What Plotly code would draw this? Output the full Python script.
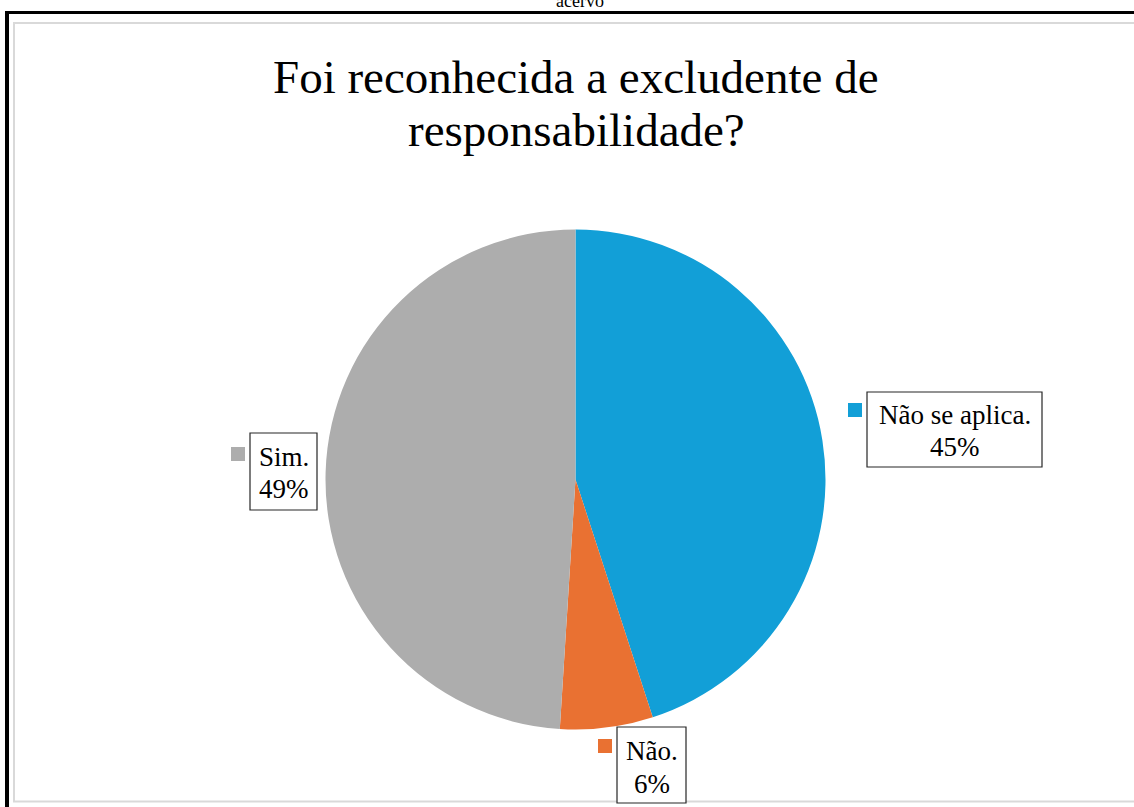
import plotly.graph_objects as go

W, H = 1134, 807

categories = ["Não se aplica.", "Não.", "Sim."]
values = [45, 6, 49]
colors = ["#129FD7", "#E97132", "#ADADAD"]
title_lines = ["Foi reconhecida a excludente de", "responsabilidade?"]
caption = "acervo"

SERIF = "Liberation Serif, Times New Roman, serif"


def px(x):
    return x / W


def py(y):
    return 1 - y / H


# pie geometry (pixels)
cx, cy, r = 575.5, 479.5, 250

fig = go.Figure(go.Pie(
    labels=categories,
    values=values,
    sort=False,
    direction="clockwise",
    rotation=0,
    marker=dict(colors=colors, line=dict(width=0)),
    textinfo="none",
    hoverinfo="label+percent",
    showlegend=False,
    domain=dict(x=[px(cx - r), px(cx + r)], y=[py(cy + r), py(cy - r)]),
))

shapes = []
annotations = []

# outer frame lines
shapes.append(dict(type="line", xref="paper", yref="paper", x0=px(5), x1=px(1134), y0=py(12.5), y1=py(12.5),
                   line=dict(color="black", width=3)))
shapes.append(dict(type="line", xref="paper", yref="paper", x0=px(7), x1=px(7), y0=py(11), y1=py(807),
                   line=dict(color="black", width=4)))
# inner grey frame
shapes.append(dict(type="rect", xref="paper", yref="paper", x0=px(14), x1=px(1140), y0=py(23), y1=py(801.5),
                   line=dict(color="#D9D9D9", width=2), fillcolor="rgba(0,0,0,0)"))


def text_line(txt, x, baseline, size):
    annotations.append(dict(
        xref="paper", yref="paper", x=px(x), y=py(baseline - 0.3 * size),
        xanchor="center", yanchor="middle", showarrow=False,
        text=txt, font=dict(family=SERIF, size=size, color="black"),
    ))


total = sum(values)
# label layout: box (x0, y0, x1, y1), legend square (x, y), baselines of two lines
label_layout = [
    ((867, 392, 1042, 467), (848, 403), (423, 455)),
    ((617, 727, 686, 803), (598, 739), (759, 792)),
    ((250, 433, 317, 510), (231, 447), (465, 497)),
]
for cat, val, col, (box, sq, bl) in zip(categories, values, colors, label_layout):
    bx0, by0, bx1, by1 = box
    shapes.append(dict(type="rect", xref="paper", yref="paper", x0=px(bx0), x1=px(bx1), y0=py(by0), y1=py(by1),
                       line=dict(color="#262626", width=1.2), fillcolor="white"))
    sx, sy = sq
    shapes.append(dict(type="rect", xref="paper", yref="paper", x0=px(sx), x1=px(sx + 14), y0=py(sy), y1=py(sy + 14),
                       line=dict(width=0), fillcolor=col))
    pct = round(val / total * 100)
    xc = (bx0 + bx1) / 2
    text_line(cat, xc, bl[0], 27)
    text_line(f"{pct}%", xc, bl[1], 27)

# title (two lines, placed separately for exact spacing)
text_line(title_lines[0], 576, 91, 47)
text_line(title_lines[1], 576, 144, 47)

# caption at the very top (cut off by the page edge, as in the source)
annotations.append(dict(
    xref="paper", yref="paper", x=px(580), y=py(1), xanchor="center", yanchor="middle", showarrow=False,
    text=caption, font=dict(family=SERIF, size=18, color="black"),
))

fig.update_layout(
    width=W, height=H,
    margin=dict(l=0, r=0, t=0, b=0),
    paper_bgcolor="white", plot_bgcolor="white",
    shapes=shapes, annotations=annotations,
)

fig.write_html("out.html", config={"displayModeBar": False},
               post_script="document.body.style.margin='0';document.body.style.overflow='hidden';")
